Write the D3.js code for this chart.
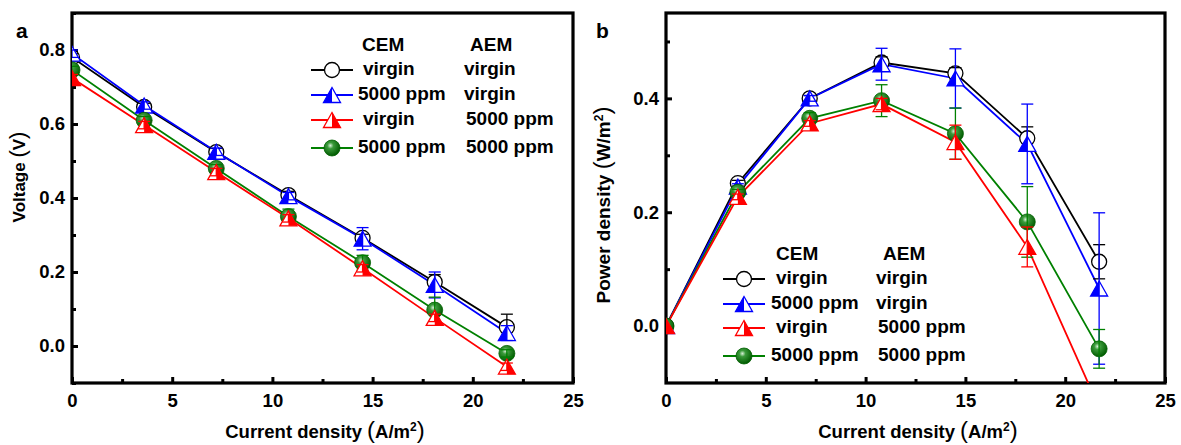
<!DOCTYPE html>
<html>
<head>
<meta charset="utf-8">
<script src="https://cdn.jsdelivr.net/npm/d3@7"></script>
<style>
  body { margin: 0; background: #fff; }
  svg text { font-family: Arial, "Liberation Sans", sans-serif; font-weight: bold; fill: #000; }
</style>
</head>
<body>
<svg id="chart" width="1181" height="445"></svg>
<script>
// current density (A/m2) shared by both panels
const currentDensity = [0, 3.6, 7.2, 10.8, 14.5, 18.1, 21.7];

// panel a: voltage (V)
const voltVirginVirgin = [0.78, 0.646, 0.524, 0.408, 0.292, 0.173, 0.051];
const voltPpmVirgin    = [0.79, 0.65, 0.525, 0.405, 0.29, 0.165, 0.035];
const voltVirginPpm    = [0.724, 0.597, 0.47, 0.345, 0.21, 0.076, -0.056];
const voltPpmPpm       = [0.746, 0.61, 0.48, 0.35, 0.225, 0.097, -0.02];
const voltErrVirginVirgin = [0.01, 0.01, 0.01, 0.01, 0.01, 0.02, 0.035];
const voltErrPpmVirgin    = [0.01, 0.01, 0.01, 0.01, 0.03, 0.035, 0.02];
const voltErrVirginPpm    = [0.01, 0.01, 0.01, 0.01, 0.01, 0.01, 0.01];
const voltErrPpmPpm       = [0.01, 0.01, 0.01, 0.02, 0.02, 0.035, 0.01];

// panel b: power density (W/m2)
const powVirginVirgin = [0, 0.251, 0.40, 0.463, 0.444, 0.33, 0.113];
const powPpmVirgin    = [0, 0.245, 0.40, 0.46, 0.435, 0.32, 0.066];
const powVirginPpm    = [0, 0.227, 0.356, 0.39, 0.323, 0.139, -0.143];
const powPpmPpm       = [0, 0.235, 0.365, 0.396, 0.338, 0.183, -0.04];
const powErrVirginVirgin = [0, 0.005, 0.005, 0.01, 0.01, 0.02, 0.03];
const powErrPpmVirgin    = [0, 0.005, 0.005, 0.028, 0.052, 0.07, 0.133];
const powErrVirginPpm    = [0, 0.005, 0.005, 0.01, 0.03, 0.035, 0.03];
const powErrPpmPpm       = [0, 0.005, 0.01, 0.028, 0.045, 0.062, 0.034];

// legend text
const cemLabels = ["virgin", "5000 ppm", "virgin", "5000 ppm"];
const aemLabels = ["virgin", "virgin", "5000 ppm", "5000 ppm"];

const xTicks = [0, 5, 10, 15, 20, 25];
const xMinorTicks = [2.5, 7.5, 12.5, 17.5, 22.5];
const voltTicks = [0.0, 0.2, 0.4, 0.6, 0.8];
const voltMinorTicks = [-0.1, 0.1, 0.3, 0.5, 0.7, 0.9];
const powTicks = [0.0, 0.2, 0.4];
const powMinorTicks = [0.1, 0.3, 0.5];

const seriesStyle = [
    {color: "#000000", marker: "circle"},
    {color: "#0000ff", marker: "triLeft"},
    {color: "#ff0000", marker: "triRight"},
    {color: "#008000", marker: "sphere"}
];
// drawing order: black, blue, green, red
const drawOrder = [0, 1, 3, 2];

const svg = d3.select("#chart");

const defs = svg.append("defs");
const grad = defs.append("radialGradient")
    .attr("id", "sphereGrad")
    .attr("cx", "0.4").attr("cy", "0.35").attr("r", "0.65");
grad.append("stop").attr("offset", "0%").attr("stop-color", "#d8f0d8");
grad.append("stop").attr("offset", "30%").attr("stop-color", "#3a9a3a");
grad.append("stop").attr("offset", "100%").attr("stop-color", "#005a00");

function drawMarker(g, kind, color, cx, cy) {
    if (kind === "circle") {
        g.append("circle").attr("cx", cx).attr("cy", cy).attr("r", 7.5)
            .attr("fill", "#fff").attr("stroke", color).attr("stroke-width", 1.3);
    } else if (kind === "sphere") {
        g.append("circle").attr("cx", cx).attr("cy", cy).attr("r", 8)
            .attr("fill", "url(#sphereGrad)").attr("stroke", "#006000").attr("stroke-width", 0.8);
    } else {
        const w = 8.5, h = 15;
        const top = cy - h / 2, bot = cy + h / 2;
        const half = kind === "triLeft"
            ? [[cx - w, bot], [cx, top], [cx, bot]]
            : [[cx, top], [cx + w, bot], [cx, bot]];
        g.append("polygon").attr("points", [[cx - w, bot], [cx, top], [cx + w, bot]].join(" "))
            .attr("fill", "#fff");
        g.append("polygon").attr("points", half.join(" ")).attr("fill", color);
        g.append("polygon").attr("points", [[cx - w, bot], [cx, top], [cx + w, bot]].join(" "))
            .attr("fill", "none").attr("stroke", color).attr("stroke-width", 1.3);
    }
}

function drawPanel(p) {
    const x = d3.scaleLinear().domain([0, 25]).range([p.left, p.right]);
    const y = d3.scaleLinear().domain(p.yDomain).range([p.bottom, p.top]);
    const g = svg.append("g");

    const clipId = "clip-" + p.name;
    defs.append("clipPath").attr("id", clipId)
        .append("rect").attr("x", p.left).attr("y", p.top)
        .attr("width", p.right - p.left).attr("height", p.bottom - p.top);

    // axes with inward ticks
    const xAxis = g.append("g").attr("transform", `translate(0,${p.bottom})`)
        .call(d3.axisBottom(x).tickValues(xTicks).tickSizeInner(-6).tickSizeOuter(0)
            .tickPadding(11).tickFormat(d3.format("d")));
    g.append("g").attr("transform", `translate(0,${p.bottom})`)
        .call(d3.axisBottom(x).tickValues(xMinorTicks).tickSizeInner(-4).tickSizeOuter(0)
            .tickFormat(""));
    const yAxis = g.append("g").attr("transform", `translate(${p.left},0)`)
        .call(d3.axisLeft(y).tickValues(p.yTicks).tickSizeInner(-6).tickSizeOuter(0)
            .tickPadding(7).tickFormat(d3.format(".1f")));
    g.append("g").attr("transform", `translate(${p.left},0)`)
        .call(d3.axisLeft(y).tickValues(p.yMinor).tickSizeInner(-4).tickSizeOuter(0)
            .tickFormat(""));
    g.selectAll(".domain").remove();
    g.selectAll(".tick line").attr("stroke", "#000").attr("stroke-width", 3);
    g.selectAll(".tick text").style("font-size", "18.5px")
        .style("font-family", "Arial, 'Liberation Sans', sans-serif").style("font-weight", "bold");

    g.append("rect").attr("x", p.left).attr("y", p.top)
        .attr("width", p.right - p.left).attr("height", p.bottom - p.top)
        .attr("fill", "none").attr("stroke", "#000").attr("stroke-width", 3.2);

    // data
    const plot = g.append("g").attr("clip-path", `url(#${clipId})`);
    const line = d3.line().x((d, i) => x(currentDensity[i])).y(d => y(d));

    drawOrder.forEach(si => {
        plot.append("path").datum(p.values[si]).attr("d", line)
            .attr("fill", "none").attr("stroke", seriesStyle[si].color).attr("stroke-width", 1.8);
    });
    drawOrder.forEach(si => {
        const st = seriesStyle[si];
        p.values[si].forEach((v, i) => {
            drawMarker(plot, st.marker, st.color, x(currentDensity[i]), y(v));
        });
        p.errors[si].forEach((e, i) => {
            if (e <= 0) return;
            const cx = x(currentDensity[i]);
            const y1 = y(p.values[si][i] + e), y2 = y(p.values[si][i] - e);
            const eg = plot.append("g").attr("stroke", st.color).attr("stroke-width", 1.3);
            eg.append("line").attr("x1", cx).attr("x2", cx).attr("y1", y1).attr("y2", y2);
            eg.append("line").attr("x1", cx - 6).attr("x2", cx + 6).attr("y1", y1).attr("y2", y1);
            eg.append("line").attr("x1", cx - 6).attr("x2", cx + 6).attr("y1", y2).attr("y2", y2);
        });
    });

    // legend
    const lg = g.append("g");
    lg.append("text").attr("x", p.leg.cemX).attr("y", p.leg.headY)
        .style("font-size", "19px").text("CEM");
    lg.append("text").attr("x", p.leg.aemX).attr("y", p.leg.headY)
        .style("font-size", "19px").text("AEM");
    [0, 1, 2, 3].forEach(si => {
        const by = p.leg.rowY[si];
        const st = seriesStyle[si];
        lg.append("line").attr("x1", p.leg.lineX).attr("x2", p.leg.lineX + 42)
            .attr("y1", by - 5).attr("y2", by - 5)
            .attr("stroke", st.color).attr("stroke-width", 1.8);
        drawMarker(lg, st.marker, st.color, p.leg.lineX + 21, by - 5);
        lg.append("text").attr("x", p.leg.col1X + (cemLabels[si] === "virgin" ? 5 : 0))
            .attr("y", by).style("font-size", "19px").text(cemLabels[si]);
        lg.append("text").attr("x", p.leg.col2X + (aemLabels[si] === "virgin" ? 0 : 2))
            .attr("y", by).style("font-size", "19px").text(aemLabels[si]);
    });

    // axis titles
    const xt = g.append("text").attr("x", p.xTitleX).attr("y", 438)
        .attr("text-anchor", "middle").style("font-size", "18.5px");
    xt.append("tspan").text("Current density ");
    xt.append("tspan").style("font-size", "24px").style("font-weight", "normal").text("(");
    xt.append("tspan").text("A/m");
    xt.append("tspan").attr("dy", -7).style("font-size", "12px").text("2");
    xt.append("tspan").attr("dy", 7).style("font-size", "24px").style("font-weight", "normal").text(")");

    const yt = g.append("text")
        .attr("transform", `translate(${p.yTitleX},${p.yTitleY}) rotate(-90)`)
        .attr("text-anchor", "middle").style("font-size", p.yTitleSize + "px");
    p.yTitle(yt);

    g.append("text").attr("x", p.labelX).attr("y", 38).style("font-size", "21px").text(p.name);
}

drawPanel({
    name: "a",
    left: 72, right: 573, top: 13, bottom: 383,
    yDomain: [-0.1, 0.9], yTicks: voltTicks, yMinor: voltMinorTicks,
    values: [voltVirginVirgin, voltPpmVirgin, voltVirginPpm, voltPpmPpm],
    errors: [voltErrVirginVirgin, voltErrPpmVirgin, voltErrVirginPpm, voltErrPpmPpm],
    leg: {cemX: 362, aemX: 470, headY: 51, rowY: [75, 100, 125, 153],
          lineX: 311, col1X: 358, col2X: 464},
    xTitleX: 325, yTitleX: 25, yTitleY: 177, yTitleSize: 17,
    yTitle: t => {
        t.append("tspan").text("Voltage ");
        t.append("tspan").style("font-size", "22px").style("font-weight", "normal").text("(");
        t.append("tspan").text("V");
        t.append("tspan").style("font-size", "22px").style("font-weight", "normal").text(")");
    },
    labelX: 16
});

drawPanel({
    name: "b",
    left: 666, right: 1165, top: 13, bottom: 383,
    yDomain: [-0.1, 0.55], yTicks: powTicks, yMinor: powMinorTicks,
    values: [powVirginVirgin, powPpmVirgin, powVirginPpm, powPpmPpm],
    errors: [powErrVirginVirgin, powErrPpmVirgin, powErrVirginPpm, powErrPpmPpm],
    leg: {cemX: 776, aemX: 883, headY: 260, rowY: [284, 309, 333, 361],
          lineX: 723, col1X: 771, col2X: 876},
    xTitleX: 918, yTitleX: 610, yTitleY: 205, yTitleSize: 19,
    yTitle: t => {
        t.append("tspan").text("Power density ");
        t.append("tspan").style("font-size", "24px").style("font-weight", "normal").text("(");
        t.append("tspan").text("W/m");
        t.append("tspan").attr("dy", -7).style("font-size", "12px").text("2");
        t.append("tspan").attr("dy", 7).style("font-size", "24px").style("font-weight", "normal").text(")");
    },
    labelX: 596
});
</script>
</body>
</html>
